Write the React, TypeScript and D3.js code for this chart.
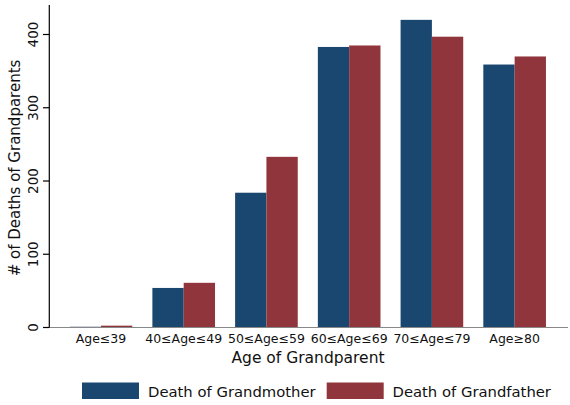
import React from "react";
import * as d3 from "d3";

const categories = ["Age≤39", "40≤Age≤49", "50≤Age≤59", "60≤Age≤69", "70≤Age≤79", "Age≥80"];
const grandmother = [1, 54, 184, 383, 420, 359];
const grandfather = [2.5, 61, 233, 385, 397, 370];
const yTicks = [0, 100, 200, 300, 400];
const seriesNames = ["Death of Grandmother", "Death of Grandfather"];
const colors = ["#1a476f", "#90353b"];

const W = 570;
const H = 405;
const font = "DejaVu Sans, sans-serif";

export default function App() {
  const x = d3.scaleBand<string>().domain(categories).range([59.6, 556]).paddingInner(0.243).paddingOuter(0.1215);
  const y = d3.scaleLinear().domain([0, 400]).range([327.5, 34.5]);
  const sub = d3.scaleBand<number>().domain([0, 1]).range([0, x.bandwidth()]);
  const series = [grandmother, grandfather];
  const yTop = y.invert(5);

  return (
    <svg width={W} height={H} style={{ position: "absolute", left: 0, top: 0, background: "#fff" }} fontFamily={font}>
      {categories.map((c, i) =>
        series.map((s, k) => (
          <rect key={c + k} x={(x(c) as number) + (sub(k) as number)} y={y(s[i])} width={sub.bandwidth()} height={y(0) - y(s[i])} fill={colors[k]} />
        ))
      )}
      {/* x axis */}
      <line x1={43} x2={568} y1={y(0)} y2={y(0)} stroke="#888" strokeWidth={1.2} />
      {/* y axis */}
      <line x1={49.3} x2={49.3} y1={y(yTop)} y2={y(0)} stroke="#000" strokeWidth={1.2} />
      {yTicks.map((t) => (
        <g key={t}>
          <line x1={43} x2={49.3} y1={y(t)} y2={y(t)} stroke="#000" strokeWidth={1.2} />
          <text transform={`translate(38,${y(t)}) rotate(-90)`} textAnchor="middle" fontSize={13.5} fill="#111">
            {t}
          </text>
        </g>
      ))}
      <text transform={`translate(20,${168}) rotate(-90)`} textAnchor="middle" fontSize={15} fill="#111">
        # of Deaths of Grandparents
      </text>
      {categories.map((c) => (
        <text key={c} x={(x(c) as number) + x.bandwidth() / 2} y={343} textAnchor="middle" fontSize={12.5} fill="#111">
          {c}
        </text>
      ))}
      <text x={308} y={363} textAnchor="middle" fontSize={15.5} fill="#111">
        Age of Grandparent
      </text>
      {seriesNames.map((n, k) => (
        <g key={n}>
          <rect x={82 + k * 244.7} y={382.5} width={57} height={16.5} fill={colors[k]} />
          <text x={148 + k * 244.5} y={396.5} fontSize={14.8} fill="#111">
            {n}
          </text>
        </g>
      ))}
    </svg>
  );
}
